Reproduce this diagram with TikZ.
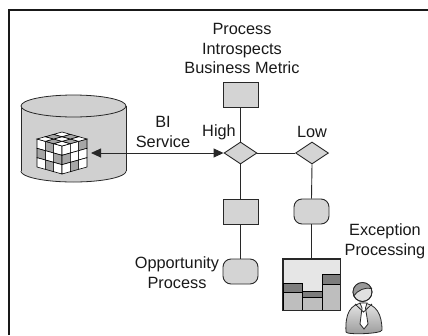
\documentclass[tikz,border=0pt]{standalone}
\usepackage{fontspec}
\setmainfont{Liberation Sans}
\usetikzlibrary{shapes.geometric,arrows.meta}

\definecolor{boxgray}{RGB}{212,212,212}
\definecolor{cylgray}{RGB}{208,208,208}
\definecolor{chartbg}{RGB}{230,230,230}
\definecolor{barlight}{RGB}{190,190,190}
\definecolor{bardark}{RGB}{125,125,125}
\definecolor{inkgray}{RGB}{40,40,40}

\begin{document}
\begin{tikzpicture}[x=1pt,y=-1pt,
  lbl/.style={font=\fontsize{16.3}{19.5}\selectfont, align=center, inner sep=0pt, text=black!90},
  boxnode/.style={draw=inkgray, fill=boxgray, line width=0.9pt,
    minimum width=35pt, minimum height=25pt, inner sep=0pt},
  roundnode/.style={boxnode, rounded corners=8pt},
  decision/.style={diamond, draw=inkgray, fill=boxgray, line width=0.9pt,
    minimum width=33pt, minimum height=22pt, inner sep=0pt},
  link/.style={draw=inkgray, line width=0.9pt},
  outline/.style={draw=inkgray, line width=0.8pt}]

\useasboundingbox (0,0) rectangle (428,335);

% frame
\draw[line width=1.4pt, black!90] (9,335) -- (9,10) -- (428,10);

% data store cylinder
\fill[cylgray] (21,106) rectangle (126,171);
\fill[cylgray] (73.5,171) ellipse [x radius=52.5pt, y radius=11pt];
\draw[outline] (21,106) -- (21,171);
\draw[outline] (126,106) -- (126,171);
\draw[outline] plot[domain=0:180, samples=60] ({73.5+52.5*cos(\x)},{171+11*sin(\x)});
\draw[outline, fill=cylgray] (73.5,106) ellipse [x radius=52.5pt, y radius=11pt];

% OLAP cube, 3x3x3, front corner at (62,146)
\def\cx{62}\def\cy{146}
% left face
\foreach \a/\b/\c in {0/0/white,1/0/black!35,2/0/white,
                      0/1/black!35,1/1/white,2/1/black!35,
                      0/2/white,1/2/black!35,2/2/white}{
  \draw[line width=0.6pt, fill=\c]
    ({\cx-25/3*\a},{\cy-7/3*\a+28/3*\b}) --
    ({\cx-25/3*(\a+1)},{\cy-7/3*(\a+1)+28/3*\b}) --
    ({\cx-25/3*(\a+1)},{\cy-7/3*(\a+1)+28/3*(\b+1)}) --
    ({\cx-25/3*\a},{\cy-7/3*\a+28/3*(\b+1)}) -- cycle;
}
% right face
\foreach \a/\b/\c in {0/0/white,1/0/white,2/0/black!35,
                      0/1/black!35,1/1/white,2/1/white,
                      0/2/white,1/2/black!35,2/2/white}{
  \draw[line width=0.6pt, fill=\c]
    ({\cx+25/3*\a},{\cy-7/3*\a+28/3*\b}) --
    ({\cx+25/3*(\a+1)},{\cy-7/3*(\a+1)+28/3*\b}) --
    ({\cx+25/3*(\a+1)},{\cy-7/3*(\a+1)+28/3*(\b+1)}) --
    ({\cx+25/3*\a},{\cy-7/3*\a+28/3*(\b+1)}) -- cycle;
}
% top face
\foreach \a/\b/\c in {0/0/white,1/0/black!35,2/0/white,
                      0/1/black!35,1/1/white,2/1/black!35,
                      0/2/white,1/2/black!35,2/2/white}{
  \draw[line width=0.6pt, fill=\c]
    ({\cx-25/3*\a+25/3*\b},{\cy-7/3*\a-7/3*\b}) --
    ({\cx-25/3*(\a+1)+25/3*\b},{\cy-7/3*(\a+1)-7/3*\b}) --
    ({\cx-25/3*(\a+1)+25/3*(\b+1)},{\cy-7/3*(\a+1)-7/3*(\b+1)}) --
    ({\cx-25/3*\a+25/3*(\b+1)},{\cy-7/3*\a-7/3*(\b+1)}) -- cycle;
}
\coordinate (cube) at (91,153);

% process nodes
\node[boxnode]  (metric)  at (240.5,94.5)  {};
\node[decision] (high)    at (240.5,153)   {};
\node[decision] (low)     at (312,153)     {};
\node[boxnode]  (opptask) at (240.5,211.5) {};
\node[roundnode] (opp)    at (240.5,271.5) {};
\node[roundnode] (exc)    at (311.5,211.5) {};
\node[draw=inkgray, fill=chartbg, line width=0.9pt, minimum width=57pt,
      minimum height=51pt, inner sep=0pt] (chart) at (311.5,284.5) {};

% bar chart content
\draw[line width=0.8pt, fill=bardark]  (283,283) rectangle (302,292);
\draw[line width=0.8pt, fill=barlight] (283,292) rectangle (302,310);
\draw[line width=0.8pt, fill=bardark]  (302,291) rectangle (322,297);
\draw[line width=0.8pt, fill=barlight] (302,297) rectangle (322,310);
\draw[line width=0.8pt, fill=bardark]  (322,274) rectangle (340,284);
\draw[line width=0.8pt, fill=barlight] (322,284) rectangle (340,310);
\draw[draw=inkgray, line width=0.9pt] (chart.north west) rectangle (chart.south east);

% connectors
\draw[link] (metric.south) -- (high.north);
\draw[link] (high.east) -- (low.west);
\draw[link] (high.south) -- (opptask.north);
\draw[link] (opptask.south) -- (opp.north);
\draw[link] (low.south) -- (exc.north);
\draw[link] (exc.south) -- (chart.north);
\draw[link, {Triangle[length=10pt,width=9pt]}-{Triangle[length=10pt,width=9pt]}]
  (cube) -- (high.west);

% user figure
\draw[outline, top color=black!10, bottom color=black!40]
  (346,332) .. controls (345,314) and (350,304) .. (363,303)
  .. controls (376,304) and (382,314) .. (382,330)
  .. controls (382,334) and (346,335) .. (346,332) -- cycle;
\draw[outline, fill=white] (360,303) -- (367,303) -- (365.5,308) -- (368,324)
  -- (364,329) -- (360,324) -- (362,308) -- cycle;
\draw[outline] (355,304) -- (363.5,312) -- (372,304);
\draw[outline, fill=black!12] (362.5,292) circle [radius=9.5pt];
\begin{scope}
  \clip (362.5,292) circle [radius=9.5pt];
  \fill[black!40] (352,280) -- (374,280) -- (374,289) .. controls (365,287) and (358,290) .. (352,297) -- cycle;
\end{scope}
\draw[outline] (362.5,292) circle [radius=9.5pt];
\draw[outline] (353.5,296) .. controls (358,290) and (365,287) .. (372,288.5);

% labels
\node[lbl] (title)   at (242,48.5)  {Process\\Introspects\\Business Metric};
\node[lbl] (bi)      at (163,132)   {BI\\Service};
\node[lbl] (hightxt) at (219,132)   {High};
\node[lbl] (lowtxt)  at (312,132)   {Low};
\node[lbl] (opptxt)  at (177,272.5) {Opportunity\\Process};
\node[lbl] (exctxt)  at (385,241.5) {Exception\\Processing};
\end{tikzpicture}
\end{document}
